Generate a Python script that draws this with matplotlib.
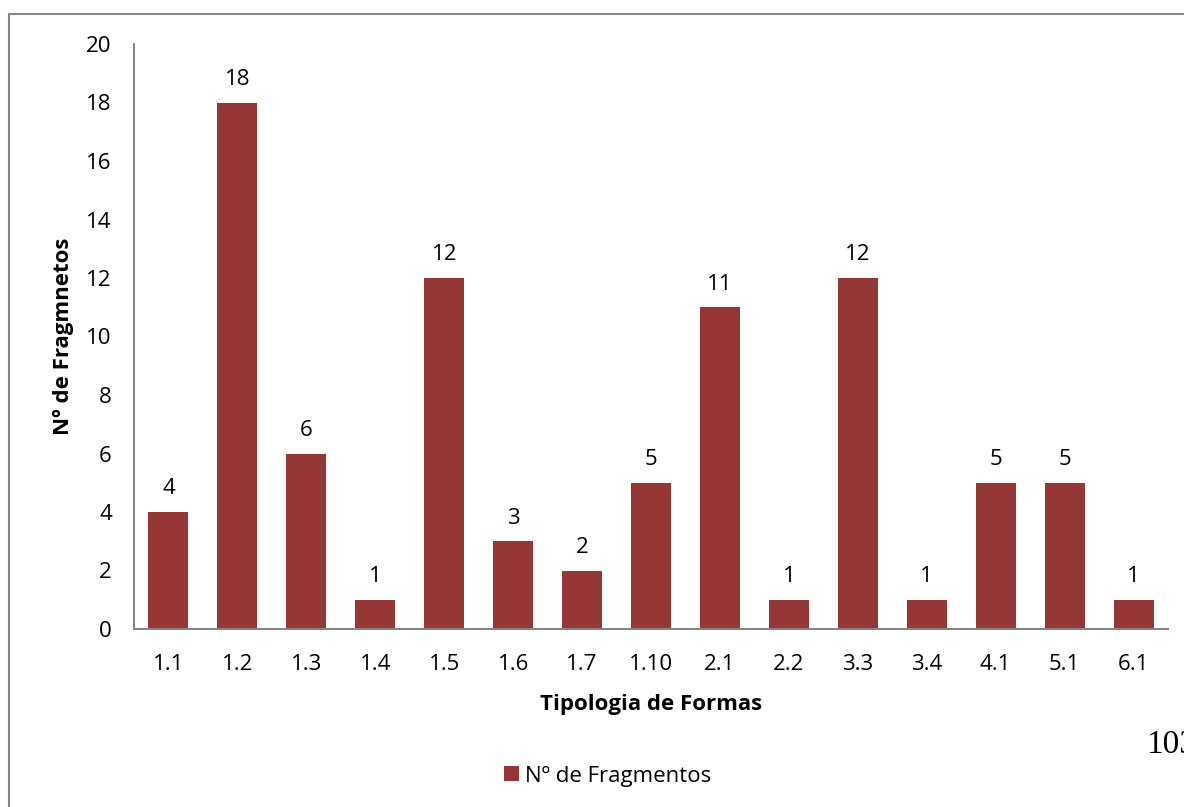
import matplotlib
matplotlib.use('Agg')
import matplotlib.pyplot as plt
from matplotlib.patches import Rectangle

categorias = ['1.1', '1.2', '1.3', '1.4', '1.5', '1.6', '1.7', '1.10',
              '2.1', '2.2', '3.3', '3.4', '4.1', '5.1', '6.1']
fragmentos = [4, 18, 6, 1, 12, 3, 2, 5, 11, 1, 12, 1, 5, 5, 1]
y_ticks = list(range(0, 21, 2))

bar_color = '#953735'
axis_color = '#868686'
font = 'Open Sans'
fs = 16

W, H = 1184, 807
fig = plt.figure(figsize=(W / 100, H / 100), dpi=100)
ax = fig.add_axes([134 / W, 1 - 629 / H, (1168 - 134) / W, (629 - 44) / H])

x = list(range(len(categorias)))
bars = ax.bar(x, fragmentos, width=0.58, color=bar_color, label='Nº de Fragmentos')
for xi, v in zip(x, fragmentos):
    ax.annotate(str(v), (xi, v), xytext=(0, 9), textcoords='offset points',
                ha='center', va='bottom', fontsize=fs, family=font)

ax.set_xlim(-0.5, len(categorias) - 0.5)
ax.set_ylim(0, 20)
ax.set_yticks(y_ticks)
ax.set_xticks(x)
ax.set_xticklabels(categorias)
ax.tick_params(length=0, labelsize=fs)
ax.tick_params(axis='x', pad=18)
ax.tick_params(axis='y', pad=16)
for lab in ax.get_xticklabels() + ax.get_yticklabels():
    lab.set_fontfamily(font)

for s in ['top', 'right']:
    ax.spines[s].set_visible(False)
for s in ['left', 'bottom']:
    ax.spines[s].set_color(axis_color)
    ax.spines[s].set_linewidth(1.5)

ax.set_xlabel('Tipologia de Formas', fontsize=fs, fontweight='bold', family=font, labelpad=14)
ax.set_ylabel('Nº de Fragmnetos', fontsize=fs, fontweight='bold', family=font, labelpad=9)

ax.legend(loc='center', bbox_to_anchor=(608 / W, 1 - 776 / H), bbox_transform=fig.transFigure,
          frameon=False, prop={'family': font, 'size': fs}, handlelength=0.65, handleheight=0.65,
          handletextpad=0.3)

# chart border
fig.patches.append(Rectangle((9 / W, -0.1), 1.2, 1 - 14 / H + 0.1, transform=fig.transFigure,
                             fill=False, edgecolor=axis_color, linewidth=1.5))

# page number
fig.text(1146 / W, 1 - 745 / H, '103', fontsize=24, family='Liberation Serif',
         ha='left', va='center')

fig.savefig('out.png', dpi=100)
